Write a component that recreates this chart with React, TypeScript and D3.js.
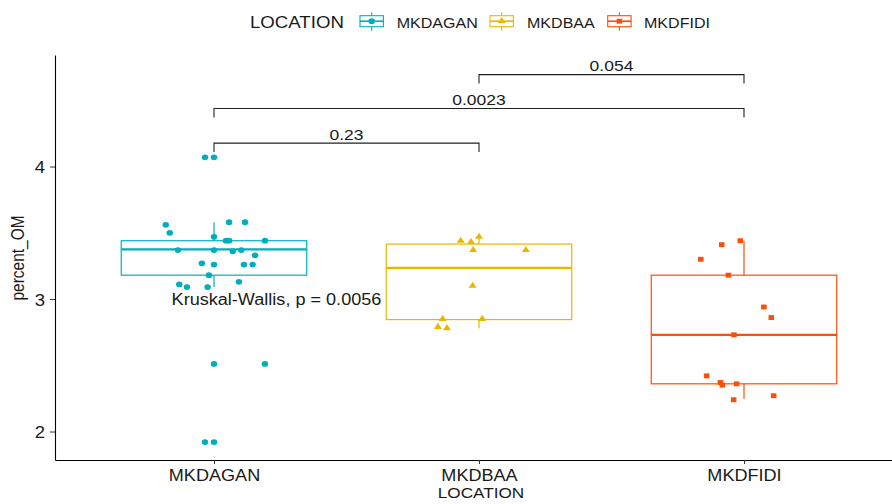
import React, { useEffect, useRef } from 'react';
import * as d3 from 'd3';

// groups
const categories = ['MKDAGAN', 'MKDBAA', 'MKDFIDI'];
const colors = ['#00AFBB', '#E7B800', '#FC4E07'];

// jittered points: value + horizontal jitter (in category units)
const daganValues = [4.07, 4.07, 3.56, 3.50, 3.58, 3.58, 3.47, 3.44, 3.44, 3.44, 3.37, 3.37, 3.37, 3.36, 3.33, 3.27, 3.26, 3.26, 3.26, 3.18, 3.11, 3.09, 3.09, 3.13, 2.51, 2.51, 1.92, 1.92];
const daganJitter = [-0.034, 0, -0.182, -0.167, 0.057, 0.117, 0, 0.045, 0.057, 0.192, -0.136, 0, 0.103, 0.071, 0.155, -0.046, 0, 0.113, 0.146, -0.019, -0.131, -0.102, -0.024, 0.094, 0, 0.192, -0.034, 0];

const baaValues = [3.44, 3.43, 3.47, 3.37, 3.37, 3.10, 2.85, 2.85, 2.79, 2.78];
const baaJitter = [-0.069, -0.030, 0, -0.022, 0.177, -0.024, -0.137, 0.012, -0.155, -0.121];

const fidiValues = [3.44, 3.41, 3.30, 3.18, 2.94, 2.86, 2.73, 2.42, 2.37, 2.35, 2.36, 2.27, 2.24];
const fidiJitter = [-0.014, -0.084, -0.163, -0.059, 0.075, 0.103, -0.038, -0.141, -0.089, -0.082, -0.028, 0.112, -0.039];

// boxplot stats
const boxLower = [3.18, 2.845, 2.36];
const boxMedian = [3.375, 3.235, 2.73];
const boxUpper = [3.44, 3.415, 3.18];
const whiskerLow = [3.09, 2.78, 2.245];
const whiskerHigh = [3.58, 3.47, 3.44];

const yTicks = [2, 3, 4];
const yLimits = [1.785, 4.842];

// pairwise comparisons
const compareFrom = ['MKDAGAN', 'MKDAGAN', 'MKDBAA'];
const compareTo = ['MKDBAA', 'MKDFIDI', 'MKDFIDI'];
const pLabels = ['0.23', '0.0023', '0.054'];
const bracketLevels = [4.177, 4.438, 4.694];
const tipLength = 0.068;

const kwLabel = 'Kruskal-Wallis, p = 0.0056';
const kwAt = [0.84, 3.0]; // category index (1-based), value

const W = 892;
const H = 504;
const SX = 1.13; // the source picture is stretched horizontally
const FONT = '"Liberation Sans", Arial, sans-serif';
const TXT = '#1a1a1a';

function symbolFor(i: number) {
  if (i === 0) return d3.symbol().type(d3.symbolCircle).size(26)();
  if (i === 1) return d3.symbol().type(d3.symbolTriangle).size(22)();
  return d3.symbol().type(d3.symbolSquare).size(24)();
}

function addText(g: any, x: number, y: number, str: string, size: number, anchor = 'start') {
  return g.append('text')
    .attr('transform', `translate(${x},${y}) scale(${SX},1)`)
    .attr('text-anchor', anchor)
    .attr('font-family', FONT)
    .attr('font-size', size)
    .attr('fill', TXT)
    .text(str);
}

export default function App() {
  const ref = useRef<SVGSVGElement>(null);

  useEffect(() => {
    const svg = d3.select(ref.current);
    svg.selectAll('*').remove();

    const x = d3.scalePoint<string>().domain(categories).range([55, 903]).padding(0.6);
    const y = d3.scaleLinear().domain(yLimits).range([460, 55]);
    const step = x.step();
    const bw = step * 0.7;

    svg.append('rect').attr('width', W).attr('height', H).attr('fill', '#fff');

    // boxes
    const boxes = svg.append('g');
    categories.forEach((c, i) => {
      const cx = x(c)!;
      const g = boxes.append('g').attr('stroke', colors[i]).attr('fill', 'none');
      g.append('line').attr('x1', cx).attr('x2', cx).attr('y1', y(boxUpper[i])).attr('y2', y(whiskerHigh[i])).attr('stroke-width', 1.2);
      g.append('line').attr('x1', cx).attr('x2', cx).attr('y1', y(boxLower[i])).attr('y2', y(whiskerLow[i])).attr('stroke-width', 1.2);
      g.append('rect')
        .attr('x', cx - bw / 2).attr('width', bw)
        .attr('y', y(boxUpper[i])).attr('height', y(boxLower[i]) - y(boxUpper[i]))
        .attr('fill', '#fff').attr('stroke-width', 1.2);
      g.append('line').attr('x1', cx - bw / 2).attr('x2', cx + bw / 2)
        .attr('y1', y(boxMedian[i])).attr('y2', y(boxMedian[i])).attr('stroke-width', 2.2);
    });

    // jittered points
    const groups = [
      { vals: daganValues, jit: daganJitter },
      { vals: baaValues, jit: baaJitter },
      { vals: fidiValues, jit: fidiJitter },
    ];
    const pts = svg.append('g');
    groups.forEach((grp, i) => {
      const cx = x(categories[i])!;
      pts.selectAll(null)
        .data(grp.vals)
        .join('path')
        .attr('d', symbolFor(i))
        .attr('transform', (d, k) => `translate(${cx + grp.jit[k] * step},${y(d)}) scale(${SX},1)`)
        .attr('fill', colors[i]);
    });

    // axes
    const yAxis = svg.append('g').attr('transform', 'translate(55,0)')
      .call(d3.axisLeft(y).tickValues(yTicks).tickSize(5).tickSizeOuter(0).tickFormat(d3.format('d')));
    const xAxis = svg.append('g').attr('transform', 'translate(0,460)')
      .call(d3.axisBottom(x).tickSize(4).tickSizeOuter(0));
    [yAxis, xAxis].forEach(a => {
      a.attr('font-family', FONT).attr('color', '#000');
      a.select('.domain').attr('stroke-width', 1.1);
      a.selectAll('.tick line').attr('stroke', '#333');
      a.selectAll('text').attr('fill', TXT).attr('font-size', 16.4);
    });
    yAxis.selectAll('.tick text')
      .attr('x', null).attr('dy', null).attr('y', 6)
      .attr('transform', `translate(-10,0) scale(${SX},1)`);
    xAxis.selectAll('.tick text')
      .attr('dy', null).attr('y', 21.2)
      .attr('font-size', 16)
      .attr('transform', `scale(${SX},1)`);

    addText(svg, 481, 497.8, 'LOCATION', 15.2, 'middle');
    svg.append('text')
      .attr('transform', `translate(24,258) scale(${SX},1) rotate(-90)`)
      .attr('text-anchor', 'middle')
      .attr('font-family', FONT)
      .attr('font-size', 15.5)
      .attr('fill', TXT)
      .text('percent_OM');

    // comparison brackets
    const br = svg.append('g');
    pLabels.forEach((lab, i) => {
      const x1 = x(compareFrom[i])!;
      const x2 = x(compareTo[i])!;
      const yb = y(bracketLevels[i]);
      const yt = y(bracketLevels[i] - tipLength);
      br.append('path')
        .attr('d', `M${x1},${yt}V${yb}H${x2}V${yt}`)
        .attr('fill', 'none').attr('stroke', '#222').attr('stroke-width', 1.1);
      addText(br, (x1 + x2) / 2, yb - 3.4, lab, 15.5, 'middle');
    });

    // Kruskal-Wallis annotation
    const kx = x(categories[0])! + (kwAt[0] - 1) * step;
    addText(svg, kx, y(kwAt[1]) + 6, kwLabel, 16);

    // legend
    const lg = svg.append('g');
    addText(lg, 250, 28.3, 'LOCATION', 16.5);
    const keyX = [360, 490, 607.7];
    const labX = [396.7, 527, 644];
    categories.forEach((c, i) => {
      const k = lg.append('g').attr('stroke', colors[i]);
      const mid = keyX[i] + 11.7;
      k.append('line').attr('x1', mid).attr('x2', mid).attr('y1', 12.3).attr('y2', 30.7).attr('stroke-width', 1.1);
      k.append('rect').attr('x', keyX[i]).attr('y', 15.7).attr('width', 23.4).attr('height', 11)
        .attr('fill', '#fff').attr('stroke-width', 1.1);
      k.append('line').attr('x1', keyX[i]).attr('x2', keyX[i] + 23.4).attr('y1', 21.2).attr('y2', 21.2).attr('stroke-width', 1.6);
      lg.append('path').attr('d', symbolFor(i))
        .attr('transform', `translate(${mid},21.2) scale(${SX},1)`)
        .attr('fill', colors[i]);
      addText(lg, labX[i], 27.7, c, 14.2);
    });
  }, []);

  return (
    <svg ref={ref} width={W} height={H}
      style={{ position: 'absolute', left: 0, top: 0, display: 'block' }} />
  );
}
